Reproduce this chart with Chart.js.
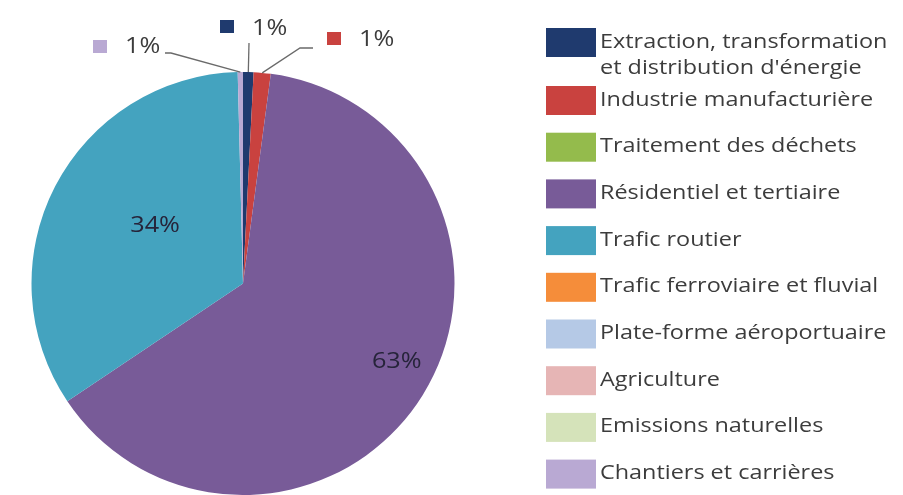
<!DOCTYPE html>
<html>
<head>
<meta charset="utf-8">
<script src="https://cdn.jsdelivr.net/npm/chart.js@4"></script>
<style>
  body { margin: 0; background: #fff; }
  #wrap { width: 903px; height: 495px; position: relative; }
</style>
</head>
<body>
<div id="wrap"><canvas id="myChart"></canvas></div>
<script>
// categories and values (percent shares)
var categories = [
  ['Extraction, transformation', "et distribution d'énergie"],
  ['Industrie manufacturière'],
  ['Traitement des déchets'],
  ['Résidentiel et tertiaire'],
  ['Trafic routier'],
  ['Trafic ferroviaire et fluvial'],
  ['Plate-forme aéroportuaire'],
  ['Agriculture'],
  ['Emissions naturelles'],
  ['Chantiers et carrières']
];
var values = [0.8, 1.3, 0, 63.5, 34.0, 0, 0, 0, 0, 0.4];
var shownLabels = ['1%', '1%', '', '63%', '34%', '', '', '', '', '1%'];
var colors = ['#1f3a6e', '#c9423f', '#94bb4c', '#785b98', '#44a3bf', '#f58d3a', '#b5c9e6', '#e6b5b5', '#d5e3ba', '#b9a9d3'];

var textFont = '"Open Sans", sans-serif';
var textColor = '#3c3c3c';
var stretch = 1.2; // the source image is a bit wider than tall

function drawText(ctx, str, x, y, size, color, align) {
  ctx.save();
  ctx.font = size + 'px ' + textFont;
  ctx.fillStyle = color;
  ctx.textBaseline = 'middle';
  ctx.translate(x, y);
  ctx.scale(stretch, 1);
  var w = ctx.measureText(str).width;
  var ox = align === 'center' ? -w / 2 : 0;
  ctx.fillText(str, ox, 0);
  ctx.restore();
}

// labels inside the pie: offsets from the arc position
var inside = {
  3: { f: 0.8, dx: 10, dy: -11 },
  4: { f: 0.5, dx: 6, dy: -9 }
};
// labels outside with a leader line and a small key square
var outside = {
  0: { key: [220, 20], text: [252, 29], line: [[249, 43]] },
  1: { key: [327, 32], text: [359, 40], line: [[313, 48], [300, 48]] },
  9: { key: [93, 40], text: [125, 47], line: [[165, 53], [171, 53]] }
};

var labelPlugin = {
  id: 'labels',
  afterDatasetsDraw: function(chart) {
    var ctx = chart.ctx;
    var meta = chart.getDatasetMeta(0);
    meta.data.forEach(function(arc, i) {
      var p = arc.getProps(['x', 'y', 'startAngle', 'endAngle', 'outerRadius'], true);
      var mid = (p.startAngle + p.endAngle) / 2;
      if (inside[i]) {
        var c = inside[i];
        var lx = p.x + Math.cos(mid) * p.outerRadius * c.f + c.dx;
        var ly = p.y + Math.sin(mid) * p.outerRadius * c.f + c.dy;
        drawText(ctx, shownLabels[i], lx, ly, 21, '#26243a', 'center');
      }
      if (outside[i]) {
        var o = outside[i];
        var ax = p.x + Math.cos(mid) * p.outerRadius;
        var ay = p.y + Math.sin(mid) * p.outerRadius;
        ctx.save();
        ctx.strokeStyle = '#6a6a6a';
        ctx.lineWidth = 1.3;
        ctx.beginPath();
        ctx.moveTo(o.line[0][0], o.line[0][1]);
        for (var k = 1; k < o.line.length; k++) ctx.lineTo(o.line[k][0], o.line[k][1]);
        ctx.lineTo(ax, ay);
        ctx.stroke();
        ctx.fillStyle = colors[i];
        ctx.fillRect(o.key[0], o.key[1], 14, 13);
        ctx.restore();
        drawText(ctx, shownLabels[i], o.text[0], o.text[1], 21, textColor, 'left');
      }
    });

    // legend on the right
    var y = 42;
    categories.forEach(function(lines, i) {
      ctx.fillStyle = colors[i];
      ctx.fillRect(546, y - 14, 50, 29);
      lines.forEach(function(t, j) {
        drawText(ctx, t, 600, y + j * 26, 19.5, textColor, 'left');
      });
      y += (i === 0 ? 58 : 46.7);
    });
  }
};

var ctx = document.getElementById('myChart').getContext('2d');
var myChart = new Chart(ctx, {
  type: 'pie',
  data: {
    labels: categories,
    datasets: [{
      data: values,
      backgroundColor: colors,
      borderWidth: 0
    }]
  },
  options: {
    responsive: true,
    maintainAspectRatio: false,
    animation: false,
    layout: {
      padding: { left: 31, right: 448, top: 72, bottom: 0 }
    },
    plugins: {
      legend: { display: false },
      tooltip: { enabled: false }
    }
  },
  plugins: [labelPlugin]
});
</script>
</body>
</html>
